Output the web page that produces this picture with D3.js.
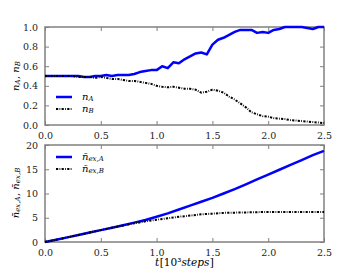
<!DOCTYPE html>
<html>
<head>
<meta charset="utf-8">
<script src="https://cdn.jsdelivr.net/npm/d3@7"></script>
<style>
  body { margin: 0; background: #fff; }
</style>
</head>
<body>
<div id="chart"></div>
<script>
// time grid (10^3 steps) for the upper panel
var tTop = [0.00,0.05,0.10,0.15,0.20,0.25,0.30,0.35,0.40,0.45,0.50,0.55,0.60,0.65,0.70,0.75,0.80,0.85,0.90,0.95,
            1.00,1.05,1.10,1.15,1.20,1.25,1.30,1.35,1.40,1.45,1.50,1.55,1.60,1.65,1.70,1.75,1.80,1.85,1.90,1.95,
            2.00,2.05,2.10,2.15,2.20,2.25,2.30,2.35,2.40,2.45,2.50];
var nA = [0.50,0.50,0.50,0.50,0.50,0.50,0.50,0.49,0.49,0.50,0.50,0.51,0.50,0.51,0.51,0.51,0.52,0.54,0.55,0.56,
          0.56,0.60,0.58,0.64,0.63,0.67,0.70,0.73,0.74,0.72,0.82,0.87,0.89,0.92,0.95,0.97,0.97,0.97,0.94,0.95,
          0.94,0.97,0.98,1.00,1.00,1.00,1.00,0.99,0.98,1.00,1.00];
var nB = [0.50,0.50,0.50,0.50,0.50,0.50,0.49,0.49,0.49,0.48,0.49,0.48,0.47,0.47,0.46,0.45,0.45,0.44,0.43,0.42,
          0.40,0.39,0.385,0.39,0.38,0.37,0.37,0.36,0.33,0.34,0.36,0.35,0.33,0.29,0.26,0.22,0.18,0.13,0.11,0.09,
          0.085,0.07,0.065,0.06,0.05,0.045,0.04,0.035,0.03,0.025,0.02];

// time grid for the lower panel
var tBot = [0.0,0.1,0.2,0.3,0.4,0.5,0.6,0.7,0.8,0.9,1.0,1.1,1.2,1.3,1.4,1.5,1.6,1.7,1.8,1.9,2.0,2.1,2.2,2.3,2.4,2.5];
var nexA = [0,0.45,0.95,1.45,1.95,2.45,2.95,3.45,4.0,4.55,5.2,5.9,6.7,7.5,8.3,9.1,10.0,10.9,11.9,12.9,13.9,14.9,15.9,16.9,17.9,18.8];
var nexB = [0,0.45,0.95,1.45,1.95,2.45,2.95,3.4,3.85,4.25,4.6,4.9,5.2,5.45,5.7,5.85,6.0,6.05,6.1,6.15,6.2,6.2,6.2,6.2,6.2,6.2];

var xTicks = [0.0,0.5,1.0,1.5,2.0,2.5];
var yTicksTop = [0.0,0.2,0.4,0.6,0.8,1.0];
var yTicksBot = [0,5,10,15,20];

var width = 360, height = 270;
var left = 45, right = 324;
var spineColor = "#808080";
var serif = "DejaVu Serif";

var svg = d3.select("#chart").append("svg")
    .attr("width", width)
    .attr("height", height)
    .attr("font-family", serif);

svg.append("rect").attr("width", width).attr("height", height).attr("fill", "#fff");

var x = d3.scaleLinear().domain([0, 2.5]).range([left, right]);

function panel(top, bottom, yDomain, yTicks, yFmt) {
  var y = d3.scaleLinear().domain(yDomain).range([bottom, top]);
  var g = svg.append("g");

  // ticks pointing inward on all four sides
  g.append("g")
      .attr("transform", `translate(0,${bottom})`)
      .call(d3.axisBottom(x).tickValues(xTicks).tickSizeInner(-4).tickSizeOuter(0).tickPadding(7).tickFormat(d3.format(".1f")));
  g.append("g")
      .attr("transform", `translate(0,${top})`)
      .call(d3.axisTop(x).tickValues(xTicks).tickSizeInner(-4).tickSizeOuter(0).tickFormat(""));
  g.append("g")
      .attr("transform", `translate(${left},0)`)
      .call(d3.axisLeft(y).tickValues(yTicks).tickSizeInner(-4).tickSizeOuter(0).tickPadding(7).tickFormat(yFmt));
  g.append("g")
      .attr("transform", `translate(${right},0)`)
      .call(d3.axisRight(y).tickValues(yTicks).tickSizeInner(-4).tickSizeOuter(0).tickFormat(""));

  g.selectAll(".domain").remove();
  g.selectAll("g").attr("font-family", serif);
  g.selectAll(".tick line").attr("stroke", spineColor).attr("stroke-width", 1);
  g.selectAll(".tick text").attr("font-size", 9.5).attr("font-family", serif).attr("fill", "#222");

  g.append("rect")
      .attr("x", left).attr("y", top)
      .attr("width", right - left).attr("height", bottom - top)
      .attr("fill", "none")
      .attr("stroke", spineColor)
      .attr("stroke-width", 1.5);
  return y;
}

var yTop = panel(27, 125, [0, 1], yTicksTop, d3.format(".1f"));
var yBot = panel(145, 242, [0, 20], yTicksBot, d3.format("d"));

function drawLine(ts, vs, y, color, dash) {
  var line = d3.line().x(function(d) { return x(d[0]); }).y(function(d) { return y(d[1]); });
  svg.append("path")
      .datum(ts.map(function(t, i) { return [t, vs[i]]; }))
      .attr("d", line)
      .attr("fill", "none")
      .attr("stroke", color)
      .attr("stroke-width", color === "#0000ff" ? 2.5 : 2)
      .attr("stroke-dasharray", dash)
      .attr("stroke-linejoin", "round");
}

var dashDot = "2.2,1.3,0.8,1.3";

drawLine(tTop, nA, yTop, "#0000ff", null);
drawLine(tTop, nB, yTop, "#000", dashDot);
drawLine(tBot, nexA, yBot, "#0000ff", null);
drawLine(tBot, nexB, yBot, "#000", dashDot);

// math-ish label helper: parts = [[text, kind]]
function mathText(sel, parts, size) {
  parts.forEach(function(p) {
    var ts = sel.append("tspan").text(p[0]);
    if (p[1] === "i") ts.attr("font-style", "italic");
    if (p[1] === "sub") ts.attr("font-style", "italic").attr("font-size", size * 0.7).attr("baseline-shift", "-20%");
    if (p[1] === "r") ts.attr("dx", 0.5);
  });
  return sel;
}

// legends
function legend(top, items) {
  items.forEach(function(it, i) {
    var yy = top + i * 12;
    svg.append("line")
        .attr("x1", 56).attr("x2", 72).attr("y1", yy).attr("y2", yy)
        .attr("stroke", it.color)
        .attr("stroke-width", it.color === "#0000ff" ? 2.5 : 2)
        .attr("stroke-dasharray", it.dash);
    mathText(svg.append("text").attr("x", 82).attr("y", yy + 2.5).attr("font-size", 10), it.label, 10);
  });
}

legend(97, [
  {color: "#0000ff", dash: null, label: [["n", "i"], ["A", "sub"]]},
  {color: "#000", dash: dashDot, label: [["n", "i"], ["B", "sub"]]}
]);
legend(157, [
  {color: "#0000ff", dash: null, label: [["n\u0304", "i"], ["ex,A", "sub"]]},
  {color: "#000", dash: dashDot, label: [["n\u0304", "i"], ["ex,B", "sub"]]}
]);

// axis labels
mathText(svg.append("text")
    .attr("transform", "translate(19,76) rotate(-90)")
    .attr("text-anchor", "middle")
    .attr("font-size", 10),
  [["n", "i"], ["A", "sub"], [", ", "r"], ["n", "i"], ["B", "sub"]], 10);

mathText(svg.append("text")
    .attr("transform", "translate(19,193) rotate(-90)")
    .attr("text-anchor", "middle")
    .attr("font-size", 10),
  [["n\u0304", "i"], ["ex,A", "sub"], [", ", "r"], ["n\u0304", "i"], ["ex,B", "sub"]], 10);

mathText(svg.append("text")
    .attr("x", (left + right) / 2).attr("y", 266)
    .attr("text-anchor", "middle")
    .attr("font-size", 10.5),
  [["t", "i"], ["[10\u00b3", "r"], ["steps", "i"], ["]", "r"]], 10.5);
</script>
</body>
</html>
